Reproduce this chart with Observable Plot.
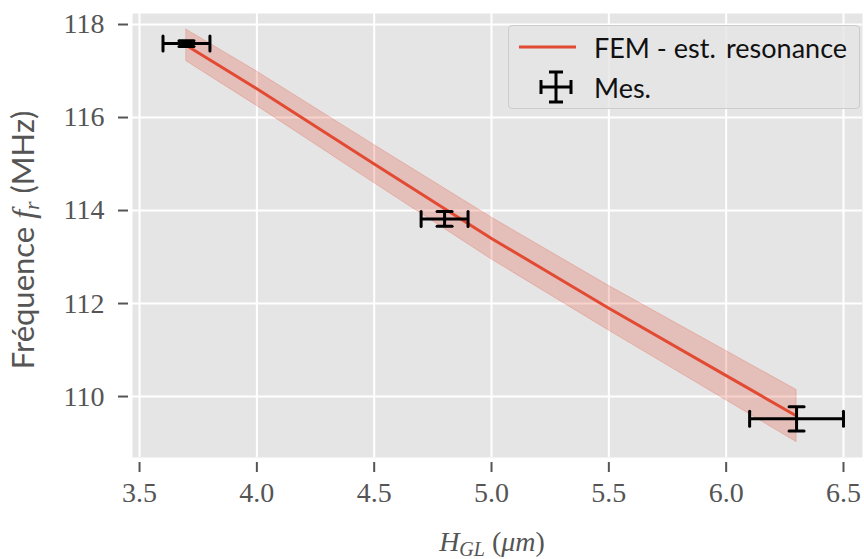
<!DOCTYPE html>
<html>
<head>
<meta charset="utf-8">
<script src="https://cdn.jsdelivr.net/npm/d3@7"></script>
<script src="https://cdn.jsdelivr.net/npm/@observablehq/plot@0.6"></script>
<style>
  html, body { margin: 0; padding: 0; background: #fff; }
  #wrap { position: relative; width: 864px; height: 559px; }
  #legend {
    position: absolute; left: 508px; top: 25px; width: 352px; height: 84px;
    background: rgba(229,229,229,0.8); border: 1px solid #cccccc; border-radius: 4px;
    box-sizing: border-box; font-family: Lato, "Open Sans", sans-serif; font-size: 27px; color: #111;
  }
  .lrow { position: absolute; left: 0; height: 40px; display: flex; align-items: center; }
  .lrow svg { position: absolute; left: 8px; }
  .lrow span { position: absolute; left: 85px; white-space: nowrap; }
</style>
</head>
<body>
<div id="wrap"></div>
<script>
// ---- data ----
const hMes = [3.7, 4.8, 6.3];           // H_GL measured (µm)
const fMes = [117.59, 113.82, 109.52];  // measured resonance (MHz)
const hErr = [0.1, 0.1, 0.2];
const fErr = [0.06, 0.16, 0.26];

const hFem = [3.7, 4.0, 4.5, 5.0, 5.5, 6.0, 6.3];
const fFem = [117.55, 116.62, 115.0, 113.4, 111.9, 110.45, 109.58];
const fFemHalf = [0.34, 0.37, 0.41, 0.45, 0.48, 0.53, 0.56];

const xTicks = [3.5, 4.0, 4.5, 5.0, 5.5, 6.0, 6.5];
const yTicks = [110, 112, 114, 116, 118];

const legendLabels = ["FEM - est.\u2009 resonance", "Mes."];

// ---- tables ----
const mes = hMes.map((h, i) => ({h, f: fMes[i], he: hErr[i], fe: fErr[i]}));
const fem = hFem.map((h, i) => ({h, f: fFem[i], lo: fFem[i] - fFemHalf[i], hi: fFem[i] + fFemHalf[i]}));

const red = "#E24A33";
const serif = "Liberation Serif";
const sans = 'Lato, "Open Sans", sans-serif';
const capShape = {draw(ctx, l) { ctx.moveTo(0, 0); ctx.lineTo(0, -l); }};
const fmtX = d3.format(".1f");

const chart = Plot.plot({
  width: 864, height: 559,
  marginLeft: 132, marginRight: 2, marginTop: 13, marginBottom: 102,
  style: {background: "#fff"},
  x: {domain: [3.470, 6.581], ticks: xTicks, tickFormat: fmtX, label: null},
  y: {domain: [108.689, 118.237], ticks: yTicks, tickFormat: d3.format("d"), label: null},
  marks: [
    Plot.frame({fill: "#e5e5e5", stroke: null}),
    Plot.gridX(xTicks, {stroke: "#fff", strokeOpacity: 1, strokeWidth: 2}),
    Plot.gridY(yTicks, {stroke: "#fff", strokeOpacity: 1, strokeWidth: 2}),
    Plot.axisX(xTicks, {tickSize: 10, dy: 5, text: null, strokeWidth: 2, stroke: "#555"}),
    Plot.axisY(yTicks, {tickSize: 10, dx: -4, text: null, strokeWidth: 2, stroke: "#555"}),
    // tick labels (serif, matplotlib LaTeX look)
    Plot.text(xTicks, {x: d => d, text: d => fmtX(d), frameAnchor: "bottom", lineAnchor: "top", dy: 25,
      fontFamily: serif, fontSize: 28, fill: "#555"}),
    Plot.text(yTicks, {y: d => d, text: d => String(d), frameAnchor: "left", textAnchor: "end", dx: -28,
      fontFamily: serif, fontSize: 28, fill: "#555"}),
    Plot.areaY(fem, {x: "h", y1: "lo", y2: "hi", fill: red, fillOpacity: 0.25, stroke: red, strokeOpacity: 0.25, strokeWidth: 1}),
    Plot.line(fem, {x: "h", y: "f", stroke: red, strokeWidth: 3}),
    // error bars
    Plot.link(mes, {x1: d => d.h - d.he, x2: d => d.h + d.he, y1: "f", y2: "f", stroke: "#000", strokeWidth: 3}),
    Plot.link(mes, {x1: "h", x2: "h", y1: d => d.f - d.fe, y2: d => d.f + d.fe, stroke: "#000", strokeWidth: 3}),
    Plot.vector(mes, {x: d => d.h - d.he, y: "f", length: 15, rotate: 0, anchor: "middle", shape: capShape, stroke: "#000", strokeWidth: 3}),
    Plot.vector(mes, {x: d => d.h + d.he, y: "f", length: 15, rotate: 0, anchor: "middle", shape: capShape, stroke: "#000", strokeWidth: 3}),
    Plot.vector(mes, {x: "h", y: d => d.f - d.fe, length: 15, rotate: 90, anchor: "middle", shape: capShape, stroke: "#000", strokeWidth: 3}),
    Plot.vector(mes, {x: "h", y: d => d.f + d.fe, length: 15, rotate: 90, anchor: "middle", shape: capShape, stroke: "#000", strokeWidth: 3})
  ]
});

const svg = d3.select(chart);

// y-axis label
const yl = svg.append("text")
  .attr("transform", "translate(34,240) rotate(-90)")
  .attr("text-anchor", "middle")
  .attr("fill", "#555")
  .style("font-size", "31px");
yl.append("tspan").attr("font-family", sans).text("Fréquence ");
yl.append("tspan").attr("font-family", serif).attr("font-style", "italic").attr("font-size", "32px").text("f");
yl.append("tspan").attr("font-family", serif).attr("font-style", "italic").attr("font-size", "22px").attr("dy", 5).text("r");
yl.append("tspan").attr("font-family", sans).attr("dy", -5).text(" (MHz)");

// x-axis label
const xl = svg.append("text")
  .attr("x", 492).attr("y", 551)
  .attr("text-anchor", "middle")
  .attr("fill", "#555")
  .attr("font-family", serif)
  .style("font-size", "28px");
xl.append("tspan").attr("font-style", "italic").text("H");
xl.append("tspan").attr("font-style", "italic").attr("font-size", "20px").attr("dy", 5).text("GL");
xl.append("tspan").attr("dy", -5).text(" (");
xl.append("tspan").attr("font-style", "italic").text("\u03bcm");
xl.append("tspan").text(")");

const wrap = document.getElementById("wrap");
wrap.appendChild(chart);

// legend (inside the axes, upper right)
const leg = document.createElement("div");
leg.id = "legend";
leg.innerHTML = `
  <div class="lrow" style="top:1px;width:100%">
    <svg width="60" height="40"><line x1="2" x2="59" y1="20" y2="20" stroke="${red}" stroke-width="3"/></svg>
    <span>${legendLabels[0]}</span>
  </div>
  <div class="lrow" style="top:41px;width:100%">
    <svg width="60" height="40">
      <g stroke="#000" stroke-width="3" fill="none">
        <line x1="24" x2="54" y1="20" y2="20"/>
        <line x1="24" x2="24" y1="13" y2="27"/>
        <line x1="54" x2="54" y1="13" y2="27"/>
        <line x1="39" x2="39" y1="5" y2="35"/>
        <line x1="32" x2="46" y1="5" y2="5"/>
        <line x1="32" x2="46" y1="35" y2="35"/>
      </g>
    </svg>
    <span>${legendLabels[1]}</span>
  </div>`;
wrap.appendChild(leg);
</script>
</body>
</html>
